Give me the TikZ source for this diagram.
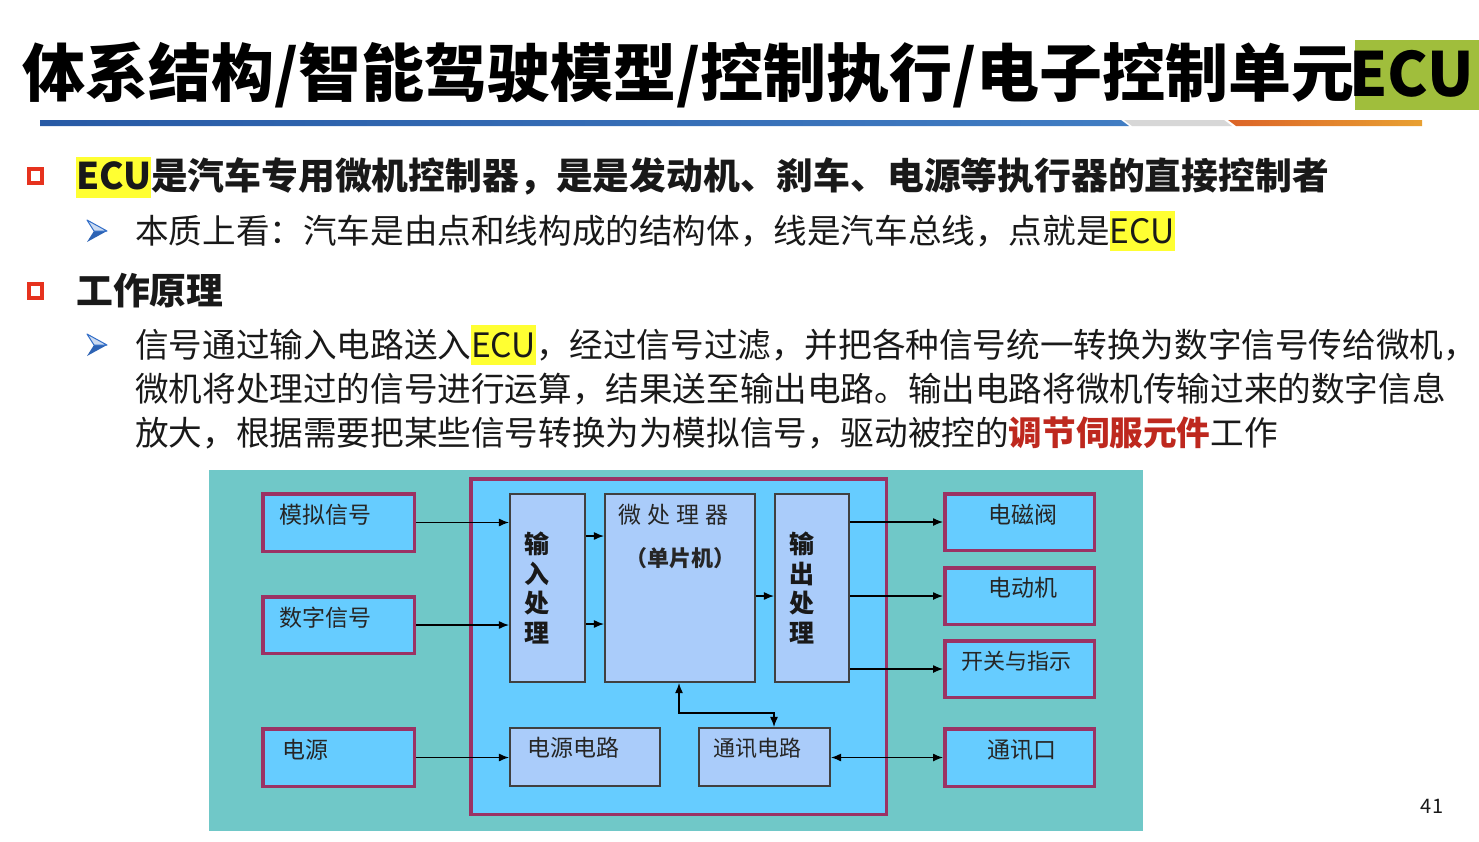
\documentclass[tikz,border=0pt]{standalone}
\usepackage{fontspec}
\setmainfont{Noto Sans CJK SC}
\usetikzlibrary{arrows.meta}
\definecolor{teal1}{RGB}{112,200,200}
\definecolor{boxblue}{RGB}{102,204,255}
\definecolor{lav}{RGB}{170,204,250}
\definecolor{magb}{RGB}{155,50,100}
\definecolor{ecugreen}{RGB}{160,190,60}
\definecolor{hlyellow}{RGB}{255,255,50}
\definecolor{bred}{RGB}{230,50,30}
\definecolor{txtred}{RGB}{190,40,30}
\definecolor{arrblue}{RGB}{50,110,200}
\definecolor{barblueA}{RGB}{40,90,165}
\definecolor{barblueB}{RGB}{65,125,195}
\definecolor{bargray}{RGB}{215,215,215}
\definecolor{barorA}{RGB}{220,100,40}
\definecolor{barorB}{RGB}{232,160,50}
\definecolor{txt}{RGB}{25,25,25}
\newcommand\myhl[4]{\begingroup\setlength\fboxsep{0pt}\colorbox{#1}{\rule[#2]{0pt}{#3}#4}\endgroup}
\begin{document}
\begin{tikzpicture}[x=1pt,y=-1pt,
  mbox/.style={draw=magb, line width=3.5pt, fill=boxblue, inner sep=0pt},
  ibox/.style={draw=black!75, line width=1.6pt, fill=lav, inner sep=0pt},
  arr/.style={-{Latex[length=10pt,width=8pt]}, line width=1.3pt, black},
  barr/.style={{Latex[length=10pt,width=8pt]}-{Latex[length=10pt,width=8pt]}, line width=1.3pt, black},
  dtxt/.style={inner sep=0pt, text=black!85, font=\fontsize{23}{27}\selectfont},
  vtxt/.style={inner sep=0pt, text=black!90, align=center, font=\bfseries\fontsize{25}{29.5}\selectfont},
  maintxt/.style={inner sep=0pt, anchor=base west, text=txt},
]
\useasboundingbox (0,0) rectangle (1479,841);
\fill[white] (0,0) rectangle (1479,841);

% title
\fill[ecugreen] (1355,40) rectangle (1479,110);
\node[maintxt, text=black, font=\bfseries\fontsize{63}{70}\selectfont] (title) at (22,96)
  {体系结构/智能驾驶模型/控制执行/电子控制单元};
\node[inner sep=0pt, anchor=base east, text=black, font=\bfseries\fontsize{61}{70}\selectfont] (titleecu) at (1474,96) {ECU};

% title bar
\shade[left color=barblueA, right color=barblueB] (40,120) -- (1121,120) -- (1129,126) -- (40,126) -- cycle;
\fill[bargray] (1124,120) -- (1224,120) -- (1232,126) -- (1132,126) -- cycle;
\shade[left color=barorA, right color=barorB] (1228,120) -- (1422,120) -- (1422,126) -- (1236,126) -- cycle;

% bullets
\draw[bred, line width=3.6pt] (28.8,168.8) rectangle (42.2,183.2);
\draw[bred, line width=3.6pt] (28.8,283.8) rectangle (42.2,298.2);
\foreach \yy in {231,345}{
  \fill[arrblue!90!black] (94,\yy) -- (107,\yy) -- (87,\yy+11) -- cycle;
  \filldraw[fill=arrblue!25, draw=arrblue, line width=1pt, line join=round] (87,\yy-11) -- (107,\yy) -- (94,\yy) -- cycle;
}

\node[maintxt, font=\bfseries\fontsize{36.8}{42}\selectfont] (b1) at (76,189)
  {\myhl{hlyellow}{-0.24em}{1.11em}{ECU}是汽车专用微机控制器，是是发动机、刹车、电源等执行器的直接控制者};
\node[maintxt, font=\fontsize{33.6}{40}\selectfont] (s1) at (135,243)
  {本质上看：汽车是由点和线构成的结构体，线是汽车总线，点就是\myhl{hlyellow}{-0.24em}{1.2em}{ECU}};
\node[maintxt, font=\bfseries\fontsize{36.8}{42}\selectfont] (b2) at (76,304) {工作原理};
\node[maintxt, font=\fontsize{33.6}{44}\selectfont] (s2a) at (135,357)
  {信号通过输入电路送入\myhl{hlyellow}{-0.24em}{1.2em}{ECU}，经过信号过滤，并把各种信号统一转换为数字信号传给微机，};
\node[maintxt, font=\fontsize{33.6}{44}\selectfont] (s2b) at (135,401)
  {微机将处理过的信号进行运算，结果送至输出电路。输出电路将微机传输过来的数字信息};
\node[maintxt, font=\fontsize{33.6}{44}\selectfont] (s2c) at (135,445)
  {放大，根据需要把某些信号转换为为模拟信号，驱动被控的{\bfseries\color{txtred}调节伺服元件}工作};

% diagram background
\fill[teal1] (209,470) rectangle (1143,831);
\node[mbox, minimum width=415.5pt, minimum height=335.5pt] (ecu) at (678.5,646.5) {};

% left boxes
\node[mbox, minimum width=151.5pt, minimum height=57.5pt] (mn) at (338.5,522.5) {};
\node[mbox, minimum width=151.5pt, minimum height=56.5pt] (sz) at (338.5,625) {};
\node[mbox, minimum width=151.5pt, minimum height=57.5pt] (dy) at (338.5,757.5) {};
% right boxes
\node[mbox, minimum width=149.5pt, minimum height=56.5pt] (dc) at (1019.5,522) {};
\node[mbox, minimum width=149.5pt, minimum height=56.5pt] (ddj) at (1019.5,596) {};
\node[mbox, minimum width=149.5pt, minimum height=56.5pt] (kg) at (1019.5,669) {};
\node[mbox, minimum width=149.5pt, minimum height=57.5pt] (txk) at (1019.5,757.5) {};
% inner boxes
\node[ibox, minimum width=75.5pt, minimum height=188.5pt] (srcl) at (547.5,588) {};
\node[ibox, minimum width=150.5pt, minimum height=188.5pt] (wcl) at (680,588) {};
\node[ibox, minimum width=74.5pt, minimum height=188.5pt] (sccl) at (812,588) {};
\node[ibox, minimum width=150.5pt, minimum height=58.5pt] (dydl) at (585,757) {};
\node[ibox, minimum width=131.5pt, minimum height=58.5pt] (txdl) at (764.5,757) {};

% texts
\node[dtxt, anchor=west] (tmn) at (279,515) {模拟信号};
\node[dtxt, anchor=west] (tsz) at (279,618) {数字信号};
\node[dtxt, anchor=west] (tdy) at (282,750) {电源};
\node[dtxt] (tdc) at (1023,515) {电磁阀};
\node[dtxt] (tddj) at (1023,588) {电动机};
\node[dtxt, font=\fontsize{22}{26}\selectfont] (tkg) at (1016,661) {开关与指示};
\node[dtxt] (ttxk) at (1022,750) {通讯口};
\node[dtxt, anchor=west] (tdydl) at (527,748) {电源电路};
\node[dtxt, anchor=west, font=\fontsize{22}{26}\selectfont] (ttxdl) at (713,748) {通讯电路};
\node[dtxt, anchor=west] (twcl) at (618,515) {微\hspace{6pt}处\hspace{6pt}理\hspace{6pt}器};
\node[dtxt, font=\bfseries\fontsize{22}{26}\selectfont] (tdpj) at (680,558) {（单片机）};
\node[vtxt] (tsrcl) at (537,588) {输\\入\\处\\理};
\node[vtxt] (tsccl) at (802,588) {输\\出\\处\\理};

% helper coordinates
\coordinate (y536) at (0,536);
\coordinate (y624) at (0,624);
\coordinate (y596) at (0,596);
\coordinate (c1) at (679,713);
\coordinate (c2) at (774,713);

% arrows
\draw[arr] (mn.east) -- (mn.east -| srcl.west);
\draw[arr] (sz.east) -- (sz.east -| srcl.west);
\draw[arr] (dy.east) -- (dy.east -| dydl.west);
\draw[arr] (srcl.east |- y536) -- (wcl.west |- y536);
\draw[arr] (srcl.east |- y624) -- (wcl.west |- y624);
\draw[arr] (wcl.east |- y596) -- (sccl.west |- y596);
\draw[arr] (sccl.east |- dc.west) -- (dc.west);
\draw[arr] (sccl.east |- ddj.west) -- (ddj.west);
\draw[arr] (sccl.east |- kg.west) -- (kg.west);
\draw[barr] (txdl.east |- txk.west) -- (txk.west);
\draw[barr] (c1 |- wcl.south) -- (c1) -- (c2) -- (c2 |- txdl.north);

% page number
\node[inner sep=0pt, text=txt, font=\fontsize{20}{24}\selectfont] (pg) at (1432,806) {41};
\end{tikzpicture}
\end{document}
